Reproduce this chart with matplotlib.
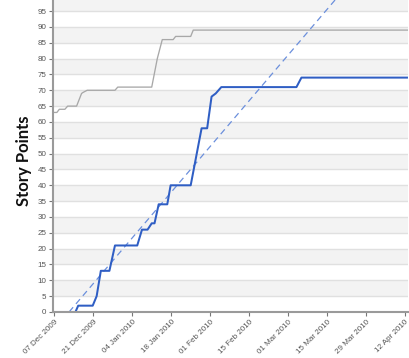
import matplotlib
matplotlib.use("Agg")
import matplotlib.pyplot as plt
import matplotlib.dates as mdates
import pandas as pd

# ---- data ----
done_dates = ["2009-12-07 00:00", "2009-12-14 14:00", "2009-12-15 14:00", "2009-12-20 19:00",
              "2009-12-22 05:00", "2009-12-23 17:00", "2009-12-26 19:00", "2009-12-28 19:00",
              "2010-01-05 19:00", "2010-01-07 12:00", "2010-01-09 12:00", "2010-01-11 00:00",
              "2010-01-12 00:00", "2010-01-13 12:00", "2010-01-16 14:00", "2010-01-17 19:00",
              "2010-01-25 00:00", "2010-01-28 22:00", "2010-01-30 22:00", "2010-02-01 12:00",
              "2010-02-03 00:00", "2010-02-05 00:00", "2010-03-04 00:00", "2010-03-05 19:00",
              "2010-04-12 17:00"]
done_values = [0, 0, 2, 2, 5, 13, 13, 21, 21, 26, 26, 28, 28, 34, 34, 40, 40, 58, 58, 68,
               69, 71, 71, 74, 74]

scope_dates = ["2009-12-07 00:00", "2009-12-07 22:00", "2009-12-08 19:00", "2009-12-10 19:00",
               "2009-12-11 19:00", "2009-12-15 00:00", "2009-12-16 19:00", "2009-12-17 07:00",
               "2009-12-18 19:00", "2009-12-28 19:00", "2009-12-29 19:00", "2010-01-11 00:00",
               "2010-01-13 00:00", "2010-01-14 19:00", "2010-01-18 17:00", "2010-01-19 14:00",
               "2010-01-25 00:00", "2010-01-25 22:00", "2010-04-13 00:00"]
scope_values = [63, 63, 64, 64, 65, 65, 69, 69.3, 70, 70, 71, 71, 80, 86, 86, 87, 87, 89, 89]

trend_dates = ["2009-12-12 07:00", "2010-04-12 00:00"]
trend_values = [0, 124.4]

tick_dates = ["2009-12-07", "2009-12-21", "2010-01-04", "2010-01-18", "2010-02-01",
              "2010-02-15", "2010-03-01", "2010-03-15", "2010-03-29", "2010-04-12"]
y_ticks = list(range(0, 100, 5))
y_label = "Story Points"

# ---- figure ----
fig = plt.figure(figsize=(4.10, 3.58), dpi=100)
ax = fig.add_axes([52.7 / 410, 1 - 312 / 358, (408 - 52.7) / 410, 312 / 358])

x0 = pd.Timestamp("2009-12-06 10:00")
x1 = pd.Timestamp("2010-04-13 02:00")
ax.set_xlim(x0, x1)
ax.set_ylim(0, 98.5)

# alternating bands and gridlines
for v in range(5, 100, 10):
    ax.axhspan(v, v + 5, color="#f3f3f3", zorder=0, lw=0)
for v in range(5, 100, 5):
    ax.axhline(v, color="#e0e0e0", lw=1.0, zorder=0.5)

ax.plot(pd.to_datetime(scope_dates), scope_values, color="#a8a8a8", lw=0.95, zorder=2)
ax.plot(pd.to_datetime(trend_dates), trend_values, color="#6b8fdc", lw=0.9,
        dashes=(5, 3.5), zorder=3)
ax.plot(pd.to_datetime(done_dates), done_values, color="#2f5ec4", lw=1.45, zorder=4)

ax.set_yticks(y_ticks)
ax.set_xticks(pd.to_datetime(tick_dates))
ax.xaxis.set_major_formatter(mdates.DateFormatter("%d %b %Y"))

for s in ["top", "right"]:
    ax.spines[s].set_visible(False)
for s in ["left", "bottom"]:
    ax.spines[s].set_color("#9a9a9a")
    ax.spines[s].set_linewidth(1.5)
    ax.spines[s].set_zorder(5)

ax.tick_params(axis="both", length=3, width=0.8, color="#777777",
               labelsize=5.8, labelcolor="#555555", pad=1.5)
for lbl in ax.get_yticklabels():
    lbl.set_family("Liberation Sans")
for lbl in ax.get_xticklabels():
    lbl.set_family("Liberation Sans")
    lbl.set_rotation(45)
    lbl.set_ha("right")
    lbl.set_va("top")
    lbl.set_rotation_mode("anchor")

ax.set_ylabel(y_label, fontsize=12, fontweight="bold", family="Lato", color="#111111")
ax.yaxis.set_label_coords(-(52.7 - 32) / 355.3, 1 - 161 / 312, transform=ax.transAxes)

fig.savefig("out.png", dpi=100)
